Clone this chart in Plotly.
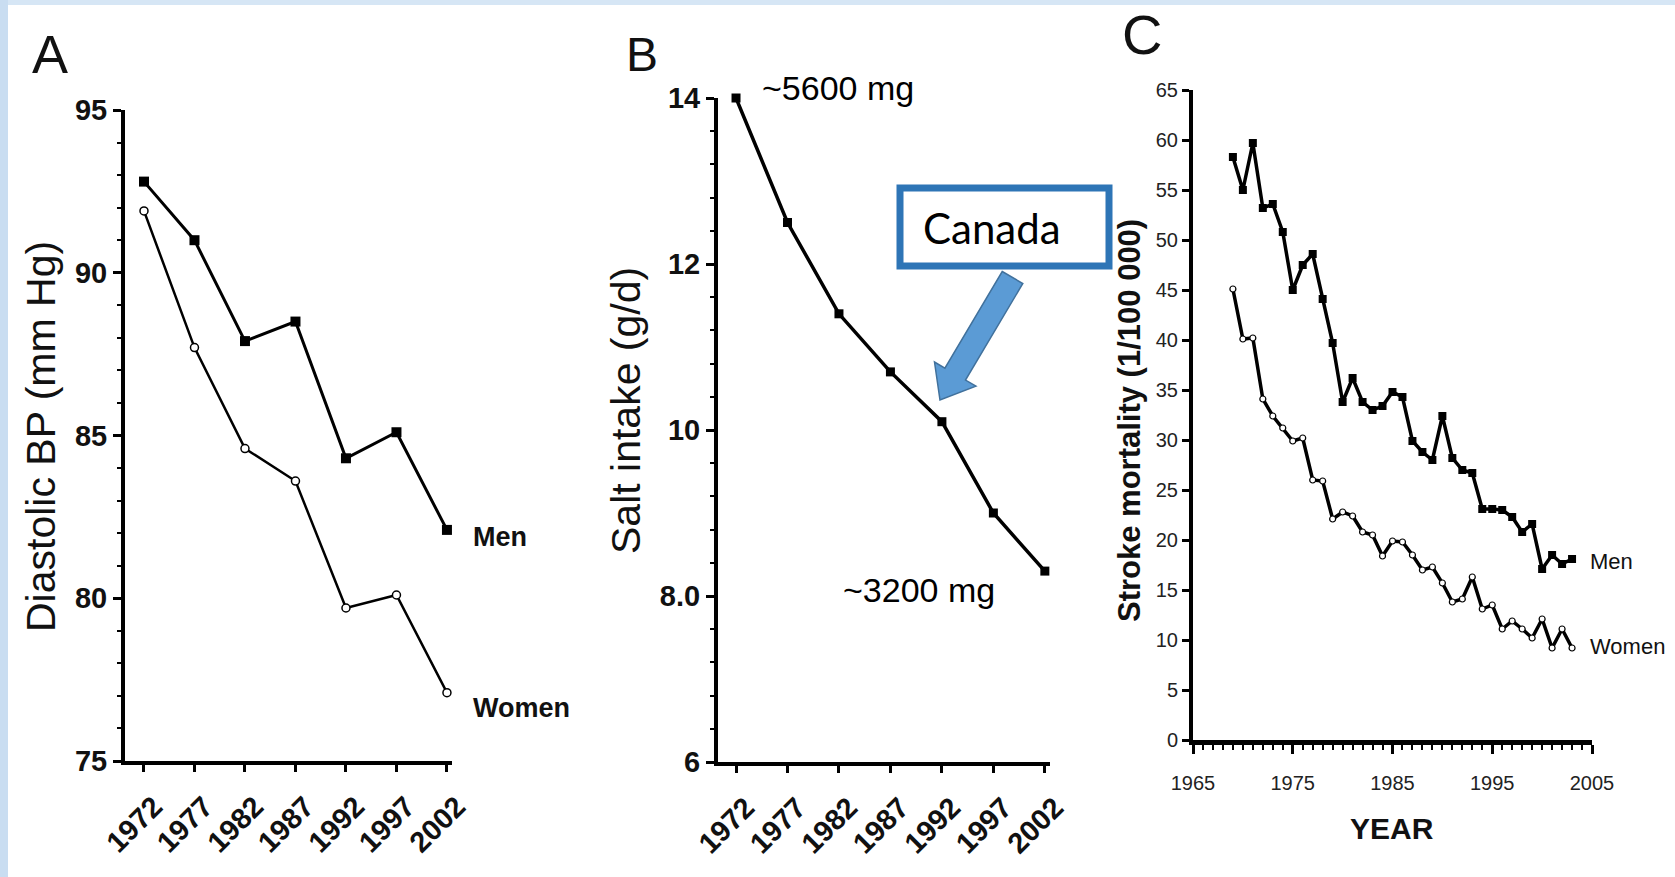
import plotly.graph_objects as go

W, H = 1675, 877

# ---------------- data ----------------
years_ab = [1972, 1977, 1982, 1987, 1992, 1997, 2002]
dbp_men = [92.8, 91.0, 87.9, 88.5, 84.3, 85.1, 82.1]
dbp_women = [91.9, 87.7, 84.6, 83.6, 79.7, 80.1, 77.1]
salt_intake = [14.0, 12.5, 11.4, 10.7, 10.1, 9.0, 8.3]

years_c = list(range(1969, 2004))
stroke_men = [58.3, 55.0, 59.7, 53.2, 53.6, 50.8, 45.0, 47.5, 48.6, 44.1,
              39.7, 33.8, 36.2, 33.8, 33.0, 33.4, 34.8, 34.3, 29.9, 28.8,
              28.0, 32.4, 28.2, 27.0, 26.7, 23.1, 23.1, 23.0, 22.3, 20.8,
              21.6, 17.1, 18.5, 17.6, 18.1]
stroke_women = [45.1, 40.1, 40.2, 34.1, 32.4, 31.2, 29.9, 30.2, 26.0, 25.9,
                22.1, 22.8, 22.4, 20.8, 20.5, 18.4, 19.9, 19.8, 18.5, 17.0,
                17.3, 15.7, 13.8, 14.1, 16.3, 13.1, 13.5, 11.1, 11.9, 11.1,
                10.2, 12.1, 9.2, 11.1, 9.2]

yticks_a = [75, 80, 85, 90, 95]
yticks_b = [6, 8, 10, 12, 14]
yticklabels_b = ["6", "8.0", "10", "12", "14"]
yticks_c = list(range(0, 70, 5))
xticks_c = [1965, 1975, 1985, 1995, 2005]

# ---------------- helpers ----------------
SANS = "Liberation Sans, Arial, Helvetica, sans-serif"


def px(x):
    return x / W


def py(y):
    return 1 - y / H


fig = go.Figure()

# Panel A
fig.add_trace(go.Scatter(x=years_ab, y=dbp_men, mode="lines+markers",
                         line=dict(color="black", width=3),
                         marker=dict(symbol="square", size=10, color="black"),
                         xaxis="x", yaxis="y", cliponaxis=False, showlegend=False))
fig.add_trace(go.Scatter(x=years_ab, y=dbp_women, mode="lines+markers",
                         line=dict(color="black", width=2.5),
                         marker=dict(symbol="circle", size=8, color="white",
                                     line=dict(color="black", width=1.5)),
                         xaxis="x", yaxis="y", cliponaxis=False, showlegend=False))
# Panel B
fig.add_trace(go.Scatter(x=years_ab, y=salt_intake, mode="lines+markers",
                         line=dict(color="black", width=3.5),
                         marker=dict(symbol="square", size=9, color="black"),
                         xaxis="x2", yaxis="y2", cliponaxis=False, showlegend=False))
# Panel C
fig.add_trace(go.Scatter(x=years_c, y=stroke_men, mode="lines+markers",
                         line=dict(color="black", width=3.5),
                         marker=dict(symbol="square", size=8, color="black"),
                         xaxis="x3", yaxis="y3", cliponaxis=False, showlegend=False))
fig.add_trace(go.Scatter(x=years_c, y=stroke_women, mode="lines+markers",
                         line=dict(color="black", width=3.5),
                         marker=dict(symbol="circle", size=6, color="white",
                                     line=dict(color="black", width=1.2)),
                         xaxis="x3", yaxis="y3", cliponaxis=False, showlegend=False))

tickfont_ab = dict(family=SANS, size=29, color="#111", weight="bold")
tickfont_xab = dict(family=SANS, size=29, color="#111", weight="bold")
tickfont_c = dict(family=SANS, size=20, color="#222")

common = dict(showgrid=False, zeroline=False, showline=True, linecolor="black",
              ticks="outside", tickcolor="black", automargin=False)

fig.update_layout(
    template="none",
    width=W, height=H, autosize=False,
    margin=dict(l=0, r=0, t=0, b=0, pad=0),
    paper_bgcolor="white", plot_bgcolor="white",
    xaxis=dict(domain=[px(125), px(452)], range=[1970.12, 2002.5],
               tickvals=years_ab, tickangle=-45, tickfont=tickfont_xab,
               ticklabelshift=10, ticklabelstandoff=6,
               linewidth=4, tickwidth=3, ticklen=7, anchor="y", **common),
    yaxis=dict(domain=[py(761), py(110)], range=[75, 95],
               tickvals=yticks_a, tickfont=tickfont_ab,
               linewidth=4, tickwidth=3, ticklen=8, anchor="x",
               minor=dict(dtick=1, ticks="outside", ticklen=4, tickwidth=2,
                          tickcolor="black"),
               **common),
    xaxis2=dict(domain=[px(718), px(1050)], range=[1970.25, 2002.5],
                tickvals=years_ab, tickangle=-45, tickfont=tickfont_xab,
                ticklabelshift=10, ticklabelstandoff=6,
                linewidth=4, tickwidth=3, ticklen=7, anchor="y2", **common),
    yaxis2=dict(domain=[py(762), py(98)], range=[6, 14],
                tickvals=yticks_b, ticktext=yticklabels_b, tickfont=tickfont_ab,
                linewidth=4, tickwidth=3, ticklen=8, anchor="x2",
                minor=dict(tick0=6, dtick=0.4, ticks="outside", ticklen=4,
                           tickwidth=2, tickcolor="black"),
                **common),
    xaxis3=dict(domain=[px(1193), px(1592)], range=[1965, 2005],
                tickvals=xticks_c, tickfont=tickfont_c, ticklabelstandoff=12,
                linewidth=5, tickwidth=3, ticklen=9, anchor="y3",
                minor=dict(dtick=1, tick0=1965, ticks="outside", ticklen=5,
                           tickwidth=2, tickcolor="black"),
                **common),
    yaxis3=dict(domain=[py(740), py(90)], range=[0, 65],
                tickvals=yticks_c, tickfont=tickfont_c,
                linewidth=4, tickwidth=2.5, ticklen=7, anchor="x3", **common),
)

ann = []
# panel letters
ann.append(dict(text="A", x=px(50), y=py(54), xref="paper", yref="paper",
                xanchor="center", yanchor="middle", showarrow=False,
                font=dict(family=SANS, size=54, color="#111")))
ann.append(dict(text="B", x=px(642), y=py(55), xref="paper", yref="paper",
                xanchor="center", yanchor="middle", showarrow=False,
                font=dict(family=SANS, size=48, color="#111")))
ann.append(dict(text="C", x=px(1142), y=py(34), xref="paper", yref="paper",
                xanchor="center", yanchor="middle", showarrow=False,
                font=dict(family=SANS, size=56, color="#111")))
# axis titles
ann.append(dict(text="Diastolic BP (mm Hg)", x=px(41), y=py(437), xref="paper",
                yref="paper", textangle=-90, showarrow=False,
                xanchor="center", yanchor="middle",
                font=dict(family=SANS, size=41, color="#111")))
ann.append(dict(text="Salt intake (g/d)", x=px(626), y=py(411), xref="paper",
                yref="paper", textangle=-90, showarrow=False,
                xanchor="center", yanchor="middle",
                font=dict(family=SANS, size=41, color="#111")))
ann.append(dict(text="Stroke mortality (1/100 000)", x=px(1129), y=py(421),
                xref="paper", yref="paper", textangle=-90, showarrow=False,
                xanchor="center", yanchor="middle",
                font=dict(family=SANS, size=31, color="#111", weight="bold")))
ann.append(dict(text="YEAR", x=px(1392), y=py(828), xref="paper", yref="paper",
                showarrow=False, xanchor="center", yanchor="middle",
                font=dict(family=SANS, size=30, color="#111", weight="bold")))
# series labels panel A
ann.append(dict(text="Men", x=years_ab[-1], y=dbp_men[-1], xref="x", yref="y",
                xanchor="left", yanchor="middle", xshift=24, yshift=-7,
                showarrow=False,
                font=dict(family=SANS, size=27, color="#111", weight="bold")))
ann.append(dict(text="Women", x=years_ab[-1], y=dbp_women[-1], xref="x", yref="y",
                xanchor="left", yanchor="middle", xshift=24, yshift=-15,
                showarrow=False,
                font=dict(family=SANS, size=27, color="#111", weight="bold")))
# series labels panel C
ann.append(dict(text="Men", x=years_c[-1], y=stroke_men[-1], xref="x3", yref="y3",
                xanchor="left", yanchor="middle", xshift=16, yshift=-2,
                showarrow=False, font=dict(family=SANS, size=22, color="#111")))
ann.append(dict(text="Women", x=years_c[-1], y=stroke_women[-1], xref="x3", yref="y3",
                xanchor="left", yanchor="middle", xshift=16, yshift=2,
                showarrow=False, font=dict(family=SANS, size=22, color="#111")))
# panel B callouts
ann.append(dict(text="~5600 mg", x=px(838), y=py(88), xref="paper", yref="paper",
                showarrow=False, xanchor="center", yanchor="middle",
                font=dict(family=SANS, size=34, color="black")))
ann.append(dict(text="~3200 mg", x=px(919), y=py(590), xref="paper", yref="paper",
                showarrow=False, xanchor="center", yanchor="middle",
                font=dict(family=SANS, size=34, color="black")))
ann.append(dict(text="Canada", x=px(992), y=py(228), xref="paper", yref="paper",
                showarrow=False, xanchor="center", yanchor="middle",
                font=dict(family="Lato, Open Sans, sans-serif", size=42, color="black")))

shapes = []
# slide border strips
shapes.append(dict(type="rect", xref="paper", yref="paper", x0=0, x1=1,
                   y0=py(5), y1=1, fillcolor="#D6E6F5", line=dict(width=0),
                   layer="below"))
shapes.append(dict(type="rect", xref="paper", yref="paper", x0=0, x1=px(8),
                   y0=0, y1=1, fillcolor="#C9DDF1", line=dict(width=0),
                   layer="below"))
# Canada box
shapes.append(dict(type="rect", xref="paper", yref="paper", x0=px(900), x1=px(1109),
                   y0=py(266), y1=py(188), fillcolor="white",
                   line=dict(color="#2E75B6", width=7), layer="below"))
# block arrow
arrow_pts = [(1002.2, 271.5), (1022.8, 283.5), (965.5, 380.1), (975.9, 386.2),
             (940.0, 400.0), (934.5, 362.0), (944.9, 368.1)]
path = "M " + " L ".join(f"{px(x):.5f},{py(y):.5f}" for x, y in arrow_pts) + " Z"
shapes.append(dict(type="path", xref="paper", yref="paper", path=path,
                   fillcolor="#5B9BD5", line=dict(color="#41719C", width=1.5)))

fig.update_layout(annotations=ann, shapes=shapes)

fig.write_html("out.html")
